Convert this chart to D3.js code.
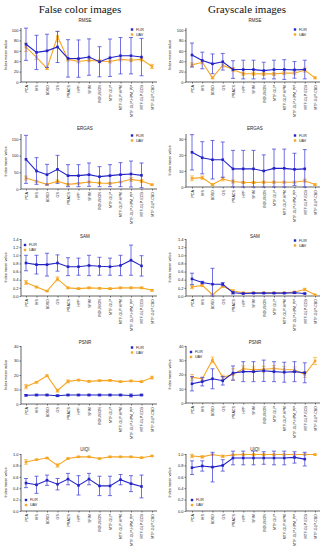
<!DOCTYPE html>
<html>
<head>
<meta charset="utf-8">
<script src="https://cdn.jsdelivr.net/npm/d3@7"></script>
<style>
  body { margin: 0; background: #fff; }
  svg { display: block; font-family: "Liberation Sans", Arial, sans-serif; }
</style>
</head>
<body>
<script>
const categories = ["PCA", "IHS", "BDSD", "GS", "PRACS", "HPF", "SFIM", "INDUSION",
  "MTF-GLP", "MTF-GLP-HPM", "MTF-GLP-HPM_PP", "MTF-GLP-ECB", "MTF-GLP-CBD"];

// RMSE
const rmseFalseFlir = [72.7, 57, 60, 67.5, 45.5, 45, 48, 39, 46.7, 50.6, 50.6, 48];
const rmseFalseFlirSd = [31, 33, 32, 30, 36, 36, 35, 29, 36, 35, 35, 36];
const rmseFalseUav = [67, 47.4, 26, 87.7, 43.5, 39.6, 42, 40, 39.6, 43.5, 42, 43.5, 30];
const rmseFalseUavSd = [8, 4, 2, 10, 3, 3, 3, 3, 3, 3, 3, 3, 4];
const rmseGrayFlir = [52, 41.5, 35, 39, 24, 24, 24, 22, 24, 24, 23.4, 24];
const rmseGrayFlirSd = [23, 16, 19, 16, 17, 18, 18, 16, 18, 19, 16, 18];
const rmseGrayUav = [33, 38, 8, 32.5, 24, 16, 16, 15.6, 15.6, 17, 17, 23, 8];
const rmseGrayUavSd = [4, 3, 2, 4, 4, 3, 3, 3, 3, 3, 3, 4, 2];

// ERGAS
const ergasFalseFlir = [89, 54, 43, 59, 40, 40, 43, 37, 40, 43, 45, 41];
const ergasFalseFlirSd = [72, 40, 31, 42, 33, 33, 35, 30, 33, 36, 39, 37];
const ergasFalseUav = [33, 23, 14, 23, 14, 17, 21, 18, 17, 21, 29, 24, 13];
const ergasFalseUavSd = [6, 3, 2, 4, 2, 2, 2, 2, 2, 2, 6, 4, 2];
const ergasGrayFlir = [21.6, 18.2, 17, 17, 11.3, 11.3, 11.3, 10, 11.6, 11.6, 11, 11.3];
const ergasGrayFlirSd = [11, 10, 12, 11, 11.5, 11.5, 11.5, 10, 12, 12, 10, 12];
const ergasGrayUav = [5.4, 5.8, 1.5, 5, 3.4, 2.8, 2.8, 3, 3, 3, 3, 3.9, 1.5];
const ergasGrayUavSd = [1.5, 1, 0.5, 1.2, 1, 0.6, 0.6, 0.6, 0.6, 0.6, 0.6, 1, 0.5];

// SAM
const samFalseFlir = [0.81, 0.77, 0.77, 0.81, 0.72, 0.72, 0.75, 0.73, 0.72, 0.75, 0.88, 0.74];
const samFalseFlirSd = [0.19, 0.23, 0.28, 0.2, 0.22, 0.21, 0.25, 0.22, 0.21, 0.25, 0.37, 0.25];
const samFalseUav = [0.33, 0.22, 0.12, 0.42, 0.2, 0.18, 0.2, 0.19, 0.18, 0.2, 0.2, 0.2, 0.14];
const samFalseUavSd = [0.05, 0.02, 0.01, 0.05, 0.02, 0.02, 0.02, 0.02, 0.02, 0.02, 0.02, 0.02, 0.02];
const samGrayFlir = [0.42, 0.33, 0.29, 0.29, 0.08, 0.06, 0.07, 0.07, 0.07, 0.07, 0.08, 0.06];
const samGrayFlirSd = [0.14, 0.03, 0.39, 0.04, 0.03, 0.01, 0.01, 0.01, 0.01, 0.01, 0.02, 0.01];
const samGrayUav = [0.22, 0.26, 0.03, 0.24, 0.12, 0.08, 0.08, 0.08, 0.08, 0.08, 0.1, 0.16, 0.03];
const samGrayUavSd = [0.04, 0.03, 0.01, 0.03, 0.04, 0.01, 0.01, 0.01, 0.01, 0.01, 0.01, 0.03, 0.01];

// PSNR
const psnrFalseFlir = [6, 6.2, 6.2, 5.7, 6.2, 6.2, 6.2, 6.2, 6.2, 6.2, 5.9, 6.2];
const psnrFalseFlirSd = [0.5, 0.5, 0.5, 0.6, 0.5, 0.5, 0.5, 0.5, 0.5, 0.5, 1, 0.5];
const psnrFalseUav = [12, 15, 19.5, 9.2, 15.6, 16.5, 15.6, 16.1, 16.3, 15.4, 15.9, 15.4, 18.2];
const psnrFalseUavSd = [1.5, 0.5, 0.5, 1, 1, 0.5, 0.5, 0.5, 0.5, 0.5, 0.5, 0.5, 1];
const psnrGrayFlir = [13.5, 15, 17, 15.6, 21, 22, 22, 22.6, 22, 21.6, 22, 21.2];
const psnrGrayFlirSd = [5, 3, 7, 3, 5, 7, 7, 7.5, 7, 7, 7, 7];
const psnrGrayUav = [18, 17, 30.2, 18, 20, 24, 23.3, 23.7, 24.2, 23.5, 23.3, 20, 29.5];
const psnrGrayUavSd = [2, 1, 2, 1.5, 4, 2, 2, 2, 2, 2, 2, 2, 2.5];

// UIQI
const uiqiFalseFlir = [0.49, 0.46, 0.54, 0.47, 0.56, 0.45, 0.56, 0.44, 0.44, 0.55, 0.48, 0.43];
const uiqiFalseFlirSd = [0.08, 0.15, 0.09, 0.1, 0.1, 0.17, 0.1, 0.17, 0.17, 0.09, 0.14, 0.2];
const uiqiFalseUav = [0.86, 0.9, 0.93, 0.8, 0.92, 0.95, 0.95, 0.92, 0.95, 0.95, 0.95, 0.935, 0.965];
const uiqiFalseUavSd = [0.04, 0.01, 0.01, 0.03, 0.01, 0.01, 0.01, 0.01, 0.01, 0.01, 0.01, 0.01, 0.01];
const uiqiGrayFlir = [0.76, 0.79, 0.77, 0.8, 0.93, 0.93, 0.93, 0.93, 0.93, 0.93, 0.94, 0.91];
const uiqiGrayFlirSd = [0.12, 0.09, 0.26, 0.1, 0.12, 0.12, 0.12, 0.11, 0.12, 0.12, 0.1, 0.12];
const uiqiGrayUav = [0.965, 0.95, 0.99, 0.96, 0.985, 0.99, 0.99, 0.99, 0.99, 0.99, 0.99, 0.99, 0.99];
const uiqiGrayUavSd = [0.03, 0.02, 0.01, 0.02, 0.01, 0.01, 0.01, 0.01, 0.01, 0.01, 0.01, 0.01, 0.01];

const columnTitles = ["False color images", "Grayscale images"];
const seriesNames = ["FLIR", "UAV"];

const width = 325, height = 550;
const blue = "#2323c8", blueBar = "#4b4bdc";
const orange = "#f6a623", orangeBar = "#f8b84a";

// layout per column (x) and per panel (y)
const cols = [
  { axisX: 21, x0: 26, x1: 152, axisEnd: 157, labelX: 7, titleX: 85, headX: 80 },
  { axisX: 186, x0: 192, x1: 315, axisEnd: 320, labelX: 171, titleX: 255, headX: 247 }
];

const panels = [
  { name: "RMSE", col: 0, y0: 82, yTop: 28, max: 104, ticks: [0, 20, 40, 60, 80, 100], fmt: "d", titleY: 22, legend: "tr",
    flir: rmseFalseFlir, flirSd: rmseFalseFlirSd, uav: rmseFalseUav, uavSd: rmseFalseUavSd },
  { name: "RMSE", col: 1, y0: 82, yTop: 28, max: 104, ticks: [0, 20, 40, 60, 80, 100], fmt: "d", titleY: 22, legend: "tr",
    flir: rmseGrayFlir, flirSd: rmseGrayFlirSd, uav: rmseGrayUav, uavSd: rmseGrayUavSd },
  { name: "ERGAS", col: 0, y0: 189, yTop: 134, max: 165, ticks: [0, 50, 100, 150], fmt: "d", titleY: 130, legend: "tr",
    flir: ergasFalseFlir, flirSd: ergasFalseFlirSd, uav: ergasFalseUav, uavSd: ergasFalseUavSd },
  { name: "ERGAS", col: 1, y0: 187, yTop: 134, max: 33, ticks: [0, 10, 20, 30], fmt: "d", titleY: 130, legend: "tr",
    flir: ergasGrayFlir, flirSd: ergasGrayFlirSd, uav: ergasGrayUav, uavSd: ergasGrayUavSd },
  { name: "SAM", col: 0, y0: 296, yTop: 239, max: 1.4, ticks: d3.range(0, 1.41, 0.2), fmt: ".1f", titleY: 238, legend: "tl",
    flir: samFalseFlir, flirSd: samFalseFlirSd, uav: samFalseUav, uavSd: samFalseUavSd },
  { name: "SAM", col: 1, y0: 296, yTop: 239, max: 1.4, ticks: d3.range(0, 1.41, 0.2), fmt: ".1f", titleY: 238, legend: "tr",
    flir: samGrayFlir, flirSd: samGrayFlirSd, uav: samGrayUav, uavSd: samGrayUavSd },
  { name: "PSNR", col: 0, y0: 404, yTop: 346, max: 40, ticks: [0, 10, 20, 30, 40], fmt: "d", titleY: 344, legend: "tr",
    flir: psnrFalseFlir, flirSd: psnrFalseFlirSd, uav: psnrFalseUav, uavSd: psnrFalseUavSd },
  { name: "PSNR", col: 1, y0: 403, yTop: 346, max: 40, ticks: [0, 10, 20, 30, 40], fmt: "d", titleY: 344, legend: "tl",
    flir: psnrGrayFlir, flirSd: psnrGrayFlirSd, uav: psnrGrayUav, uavSd: psnrGrayUavSd },
  { name: "UIQI", col: 0, y0: 511, yTop: 454, max: 1.0, ticks: d3.range(0, 1.01, 0.2), fmt: ".1f", titleY: 451, legend: "bl",
    flir: uiqiFalseFlir, flirSd: uiqiFalseFlirSd, uav: uiqiFalseUav, uavSd: uiqiFalseUavSd },
  { name: "UIQI", col: 1, y0: 511, yTop: 454, max: 1.0, ticks: d3.range(0, 1.01, 0.2), fmt: ".1f", titleY: 451, legend: "bl",
    flir: uiqiGrayFlir, flirSd: uiqiGrayFlirSd, uav: uiqiGrayUav, uavSd: uiqiGrayUavSd }
];

const svg = d3.select("body").append("svg")
  .attr("width", width)
  .attr("height", height);

svg.append("rect").attr("width", width).attr("height", height).attr("fill", "#fff");

// column headings
cols.forEach((c, i) => {
  svg.append("text")
    .attr("x", c.headX)
    .attr("y", 13)
    .attr("text-anchor", "middle")
    .style("font-family", "'Liberation Serif', 'DejaVu Serif', serif")
    .style("font-size", "11px")
    .attr("fill", "#111")
    .text(columnTitles[i]);
});

const drawPanel = (p) => {
  const c = cols[p.col];
  const g = svg.append("g");

  const x = d3.scalePoint().domain(categories).range([c.x0, c.x1]);
  const y = d3.scaleLinear().domain([0, p.max]).range([p.y0, p.yTop]);

  // y axis
  const yAxis = d3.axisLeft(y)
    .tickValues(p.ticks)
    .tickFormat(d3.format(p.fmt))
    .tickSize(1.5)
    .tickPadding(1);
  const ya = g.append("g")
    .attr("transform", `translate(${c.axisX},0)`)
    .call(yAxis);
  ya.select(".domain").attr("d", `M-0.0,${p.y0}V${p.yTop}`).attr("stroke", "#222").attr("stroke-width", 0.7);
  ya.selectAll(".tick line").attr("stroke", "#222").attr("stroke-width", 0.6);
  ya.selectAll(".tick text").style("font-size", "4px").attr("fill", "#222");

  // x axis
  const xAxis = d3.axisBottom(x).tickSize(1.5).tickPadding(1.5);
  const xa = g.append("g")
    .attr("transform", `translate(0,${p.y0})`)
    .call(xAxis);
  xa.select(".domain").attr("d", `M${c.axisX},0H${c.axisEnd}`).attr("stroke", "#222").attr("stroke-width", 0.7);
  xa.selectAll(".tick line").attr("stroke", "#222").attr("stroke-width", 0.6);
  xa.selectAll(".tick text")
    .style("font-size", "3.6px")
    .attr("fill", "#222")
    .attr("text-anchor", "end")
    .attr("transform", "rotate(-90)")
    .attr("x", -3.2)
    .attr("y", 0)
    .attr("dy", "0.35em");

  // y axis title
  g.append("text")
    .attr("transform", `translate(${c.labelX},${(p.y0 + p.yTop) / 2}) rotate(-90)`)
    .attr("text-anchor", "middle")
    .style("font-size", "3.8px")
    .attr("fill", "#222")
    .text("Index mean value");

  // panel title
  g.append("text")
    .attr("x", c.titleX)
    .attr("y", p.titleY)
    .attr("text-anchor", "middle")
    .style("font-size", "4.5px")
    .attr("fill", "#222")
    .text(p.name);

  const series = [
    { vals: p.uav, sd: p.uavSd, color: orange, bar: orangeBar },
    { vals: p.flir, sd: p.flirSd, color: blue, bar: blueBar }
  ];

  // UIQI / PSNR: draw order roughly as original (FLIR on top)
  series.forEach(s => {
    const pts = s.vals.map((v, i) => ({ cat: categories[i], v, sd: s.sd[i] }));

    const eb = g.append("g").attr("stroke", s.bar).attr("stroke-width", 0.8).attr("fill", "none");
    eb.selectAll("path")
      .data(pts)
      .join("path")
      .attr("d", d => {
        const cx = x(d.cat), hi = y(d.v + d.sd), lo = y(Math.max(0, d.v - d.sd));
        return `M${cx},${hi}V${lo}M${cx - 2},${hi}H${cx + 2}M${cx - 2},${lo}H${cx + 2}`;
      });

    g.append("path")
      .datum(pts)
      .attr("fill", "none")
      .attr("stroke", s.color)
      .attr("stroke-width", 1.1)
      .attr("d", d3.line().x(d => x(d.cat)).y(d => y(d.v)));

    g.append("g").selectAll("rect")
      .data(pts)
      .join("rect")
      .attr("x", d => x(d.cat) - 1.3)
      .attr("y", d => y(d.v) - 1.3)
      .attr("width", 2.6)
      .attr("height", 2.6)
      .attr("fill", s.color);
  });

  // legend
  let lx, ly;
  if (p.legend === "tr") { lx = c.x1 - 20; ly = p.yTop + 1.5; }
  else if (p.legend === "tl") { lx = c.x0 - 1; ly = p.yTop + 6; }
  else { lx = c.x0; ly = p.y0 - 11; }
  const lg = g.append("g").attr("transform", `translate(${lx},${ly})`);
  [["FLIR", blue], ["UAV", orange]].forEach(([name, col], i) => {
    lg.append("rect")
      .attr("x", -1.2).attr("y", i * 5 - 1.2)
      .attr("width", 2.4).attr("height", 2.4)
      .attr("fill", col);
    lg.append("text")
      .attr("x", 4)
      .attr("y", i * 5)
      .attr("dy", "0.35em")
      .style("font-size", "3.6px")
      .attr("fill", "#222")
      .text(name);
  });
};

panels.forEach(drawPanel);
</script>
</body>
</html>
